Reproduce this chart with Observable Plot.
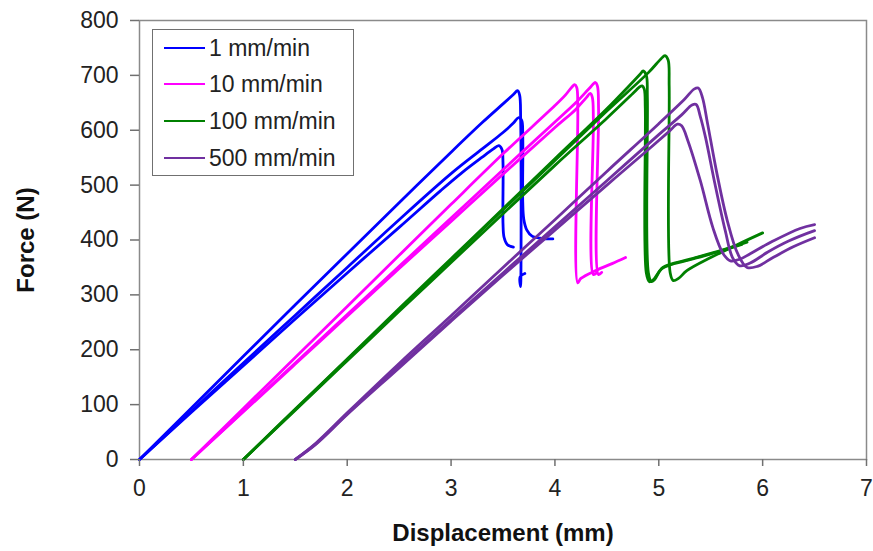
<!DOCTYPE html>
<html>
<head>
<meta charset="utf-8">
<script src="https://cdn.jsdelivr.net/npm/d3@7"></script>
<script src="https://cdn.jsdelivr.net/npm/@observablehq/plot@0.6"></script>
<style>
  html, body { margin: 0; padding: 0; background: #fff; }
  #wrap { position: relative; width: 873px; height: 551px; font-family: "Liberation Sans", Arial, sans-serif; }
  #legend { position: absolute; left: 152px; top: 29px; width: 200px; height: 145px; border: 1.5px solid #707070; background: #fff; }
  .row { position: absolute; left: 0; height: 24px; display: flex; align-items: center; }
  .sw { width: 41px; height: 2.6px; margin-left: 11px; margin-right: 4px; }
  .lab { font-size: 23px; color: #222; white-space: nowrap; }
</style>
</head>
<body>
<div id="wrap"></div>
<script>
// Series (loading rates) and colours
const series = ["1 mm/min", "10 mm/min", "100 mm/min", "500 mm/min"];
const colors = ["#0000FF", "#FF00FF", "#008000", "#7030A0"];

// Axis ticks
const xTicks = [0, 1, 2, 3, 4, 5, 6, 7];
const yTicks = [0, 100, 200, 300, 400, 500, 600, 700, 800];

// 1 mm/min (three specimens) — displacement (mm), force (N)
const blue1X = [0, 0.5, 1, 1.5, 2, 2.5, 3, 3.3, 3.5, 3.6, 3.64, 3.66, 3.67, 3.67, 3.665, 3.71];
const blue1F = [0, 94, 188, 282, 375, 468, 560, 614, 648, 665, 672, 664, 620, 315, 333, 339];
const blue2X = [0, 0.5, 1, 1.5, 2, 2.5, 3, 3.3, 3.5, 3.6, 3.65, 3.68, 3.69, 3.69, 3.7, 3.73, 3.78, 3.87, 3.98];
const blue2F = [0, 88, 176, 263, 350, 437, 521, 566, 596, 613, 623, 618, 590, 470, 438, 418, 407, 403, 402];
const blue3X = [0, 0.5, 1, 1.5, 2, 2.5, 2.9, 3.1, 3.3, 3.4, 3.46, 3.49, 3.5, 3.5, 3.51, 3.54, 3.6];
const blue3F = [0, 86, 171, 256, 340, 423, 490, 522, 551, 565, 572, 565, 540, 430, 405, 392, 387];

// 10 mm/min
const mag1X = [0.5, 1, 1.5, 2, 2.5, 3, 3.5, 4, 4.1, 4.16, 4.19, 4.21, 4.22, 4.22, 4.25, 4.4, 4.55, 4.68];
const mag1F = [0, 93, 186, 279, 372, 465, 557, 645, 664, 678, 683, 678, 640, 322, 330, 345, 357, 368];
const mag2X = [0.5, 1, 1.5, 2, 2.5, 3, 3.5, 4, 4.2, 4.33, 4.39, 4.41, 4.42, 4.42, 4.45];
const mag2F = [0, 88, 176, 264, 352, 440, 528, 615, 650, 676, 687, 680, 640, 337, 341];
const mag3X = [0.5, 1, 1.5, 2, 2.5, 3, 3.5, 4, 4.2, 4.3, 4.34, 4.36, 4.37, 4.37, 4.4];
const mag3F = [0, 87, 174, 261, 348, 434, 520, 605, 638, 659, 667, 660, 620, 337, 340];

// 100 mm/min
const grn1X = [1, 1.5, 2, 2.5, 3, 3.5, 4, 4.5, 4.9, 5.02, 5.06, 5.09, 5.1, 5.11, 5.14, 5.19, 5.27, 5.5, 5.75, 6.0];
const grn1F = [0, 91, 182, 273, 364, 455, 545, 635, 705, 730, 736, 728, 680, 340, 326, 330, 344, 368, 391, 413];
const grn2X = [1, 1.5, 2, 2.5, 3, 3.5, 4, 4.5, 4.75, 4.82, 4.85, 4.88, 4.89, 4.9, 4.93, 4.96, 5.04, 5.3, 5.6, 5.85];
const grn2F = [0, 92, 183, 275, 366, 457, 548, 639, 688, 702, 708, 700, 660, 340, 324, 328, 350, 365, 381, 396];
const grn3X = [1, 1.5, 2, 2.5, 3, 3.5, 4, 4.5, 4.75, 4.81, 4.84, 4.86, 4.87, 4.88, 4.91, 4.95, 5.03, 5.3, 5.6, 5.8];
const grn3F = [0, 90, 180, 270, 359, 448, 536, 622, 667, 678, 681, 675, 640, 340, 324, 328, 348, 364, 380, 392];

// 500 mm/min
const pur1X = [1.5, 1.7, 2, 2.5, 3, 3.5, 4, 4.5, 5, 5.25, 5.34, 5.38, 5.42, 5.47, 5.56, 5.66, 5.76, 5.85, 5.95, 6.1, 6.3, 6.5];
const pur1F = [0, 30, 85, 175, 262, 350, 437, 525, 612, 657, 675, 677, 660, 612, 521, 435, 375, 350, 352, 368, 388, 404];
const pur2X = [1.5, 1.7, 2, 2.5, 3, 3.5, 4, 4.5, 5, 5.22, 5.32, 5.36, 5.4, 5.45, 5.54, 5.64, 5.71, 5.78, 5.88, 6.05, 6.25, 6.5];
const pur2F = [0, 29, 83, 170, 255, 340, 424, 508, 592, 628, 646, 647, 625, 587, 503, 417, 368, 353, 358, 378, 398, 417];
const pur3X = [1.5, 1.7, 2, 2.5, 3, 3.5, 4, 4.5, 4.9, 5.1, 5.18, 5.22, 5.28, 5.4, 5.52, 5.62, 5.69, 5.78, 5.88, 6.1, 6.36, 6.5];
const pur3F = [0, 28, 82, 167, 252, 336, 418, 500, 565, 598, 611, 608, 581, 508, 423, 375, 362, 365, 375, 398, 421, 428];

const curves = [
  ["blue1", 0, blue1X, blue1F], ["blue2", 0, blue2X, blue2F], ["blue3", 0, blue3X, blue3F],
  ["mag1", 1, mag1X, mag1F], ["mag2", 1, mag2X, mag2F], ["mag3", 1, mag3X, mag3F],
  ["grn1", 2, grn1X, grn1F], ["grn2", 2, grn2X, grn2F], ["grn3", 2, grn3X, grn3F],
  ["pur1", 3, pur1X, pur1F], ["pur2", 3, pur2X, pur2F], ["pur3", 3, pur3X, pur3F]
];
const data = curves.flatMap(([id, s, xs, fs]) => xs.map((x, i) => ({curve: id, series: series[s], x, f: fs[i]})));

const chart = Plot.plot({
  width: 873, height: 551,
  marginLeft: 139, marginRight: 7, marginTop: 20, marginBottom: 92,
  style: {fontFamily: "'Liberation Sans', Arial, sans-serif", fontSize: "23px", color: "#222", background: "#fff"},
  x: {domain: [0, 7]},
  y: {domain: [0, 800]},
  color: {domain: series, range: colors},
  marks: [
    Plot.frame({stroke: "#8a8a8a", strokeWidth: 1.5}),
    Plot.line(data, {x: "x", y: "f", z: "curve", stroke: "series", strokeWidth: 2.8, curve: "catmull-rom"}),
    Plot.axisX({ticks: xTicks, tickSize: 7, tickPadding: 13, stroke: "#707070", strokeWidth: 1.5, label: null, fontSize: 23, tickFormat: d => String(d)}),
    Plot.axisY({ticks: yTicks, tickSize: 9, tickPadding: 12, stroke: "#707070", strokeWidth: 1.5, label: null, fontSize: 23, tickFormat: d => String(d)}),
    Plot.text(["Displacement (mm)"], {frameAnchor: "bottom", lineAnchor: "middle", dy: 74, fontWeight: "bold", fontSize: 24, fill: "#111"}),
    Plot.text(["Force (N)"], {frameAnchor: "left", textAnchor: "middle", lineAnchor: "middle", dx: -113, rotate: -90, fontWeight: "bold", fontSize: 24, fill: "#111"})
  ]
});

const wrap = document.getElementById("wrap");
wrap.appendChild(chart);

// Legend (HTML overlay), built from series/colors
const legend = document.createElement("div");
legend.id = "legend";
const rowTops = [6, 42, 79, 116];
series.forEach((s, i) => {
  const row = document.createElement("div");
  row.className = "row";
  row.style.top = rowTops[i] + "px";
  const sw = document.createElement("div");
  sw.className = "sw";
  sw.style.background = colors[i];
  const lab = document.createElement("span");
  lab.className = "lab";
  lab.textContent = s;
  row.appendChild(sw); row.appendChild(lab);
  legend.appendChild(row);
});
wrap.appendChild(legend);
</script>
</body>
</html>
